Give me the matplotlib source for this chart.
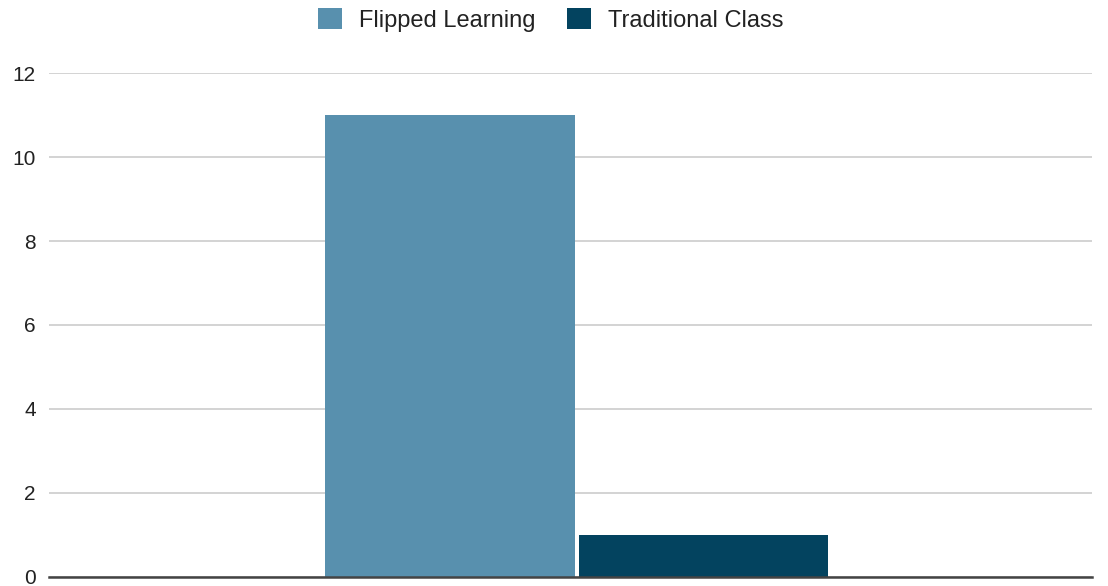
import matplotlib.pyplot as plt

plt.rcParams['font.family'] = ['Liberation Sans', 'DejaVu Sans']

# scores per teaching approach
series = ["Flipped Learning", "Traditional Class"]
values = [11, 1]
colors = ["#5890ae", "#03435f"]
yticks = [0, 2, 4, 6, 8, 10, 12]

fig = plt.figure(figsize=(11.08, 5.86), dpi=100)
ax = fig.add_axes([0.0442, 0.0154, 0.9414, 0.86])

width = 0.239
gap = 0.004
offsets = [-(width + gap) / 2, (width + gap) / 2]
for name, val, col, off in zip(series, values, colors, offsets):
    ax.bar(off, val, width=width, color=col, label=name, zorder=3)

ax.set_xlim(-0.506, 0.494)
ax.set_ylim(0, 12)
ax.set_yticks(yticks)
ax.set_xticks([])
ax.grid(axis='y', color='#cccccc', linewidth=1.2, zorder=0)
for side in ['top', 'right', 'left']:
    ax.spines[side].set_visible(False)
ax.spines['bottom'].set_color('#444444')
ax.spines['bottom'].set_linewidth(1.8)
ax.spines['bottom'].set_zorder(4)
ax.tick_params(axis='y', length=0, pad=9.5, labelsize=15, labelcolor='#222222')

fig.legend(loc='center', bbox_to_anchor=(550.5 / 1108, 1 - 20 / 586), ncol=2,
           frameon=False, fontsize=17, handlelength=1.0, handleheight=1.0,
           handletextpad=0.72, columnspacing=1.35, labelcolor='#222222')

fig.savefig('out.png', dpi=100)
